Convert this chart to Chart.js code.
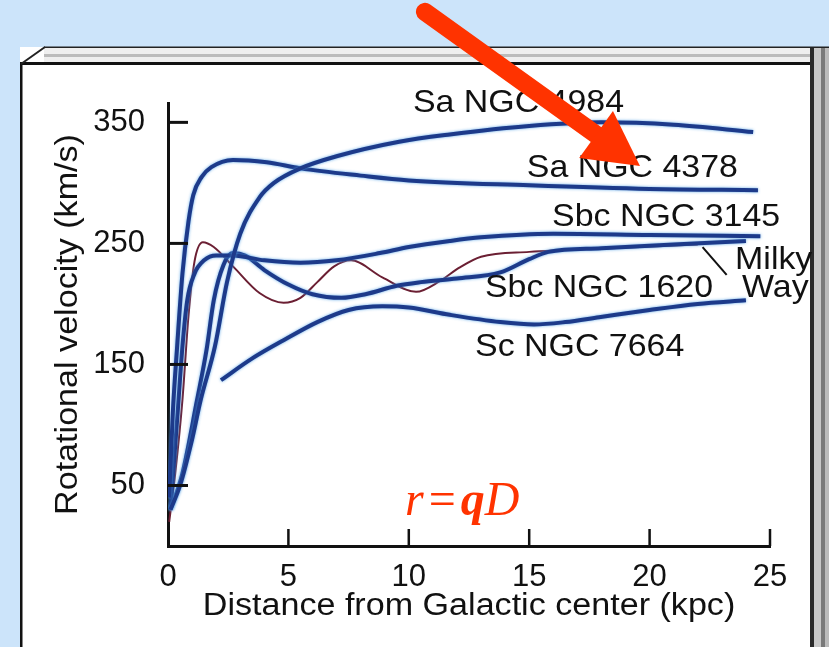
<!DOCTYPE html>
<html>
<head>
<meta charset="utf-8">
<script src="https://cdn.jsdelivr.net/npm/chart.js@4.4.1/dist/chart.umd.min.js"></script>
<style>
  html, body { margin: 0; padding: 0; background: #cce4fa; }
  #wrap { position: relative; width: 829px; height: 647px; overflow: hidden; }
  canvas { display: block; }
</style>
</head>
<body>
<div id="wrap"><canvas id="rot" width="829" height="647"></canvas></div>
<script>
/* ── rotation curves: [distance kpc, velocity km/s] ── */
const NGC4984 = [[0.1,30],[0.5,50],[1.0,88],[1.35,120],[1.95,165],[2.45,218],[3,258],[3.8,288],
  [4.4,300],[5.5,312],[7,322],[9.6,334],[11.7,340],[15,347],[18,350],[21,348],[24.3,342]];
const NGC4378 = [[0.05,40],[0.2,110],[0.37,162],[0.6,225],[0.85,268],[1.05,290],[1.4,305],[1.8,313],
  [2.7,319],[4.1,317],[5.5,312],[8,306],[10,302],[15,298],[20,295],[24.5,294]];
const NGC3145 = [[0.1,30],[0.4,110],[0.6,165],[0.8,203],[1.1,225],[1.5,236],[2,240],[2.7,240],
  [4,236],[5.5,234],[7,236],[8.8,242],[10,247],[11.7,252],[13,255],[16,258],[20,257],[24.6,256]];
const NGC1620 = [[0.1,30],[0.6,60],[1.2,120],[1.6,162],[1.9,203],[2.3,232],[2.7,242],[3.2,240],
  [4,228],[5,216],[6,208],[7.2,205],[8.2,208],[9.5,215],[10.5,218],[12,221],[13.8,226],[15,237],
  [15.8,243],[18,246],[21,249],[24,252]];
const NGC7664 = [[2.2,137],[3.5,155],[4.8,170],[6.2,185],[7.5,195],[8.9,198],[10,197],[11.7,191],
  [13.8,185],[15.2,183],[16.5,185],[17.9,189],[20,195],[22,200],[24,203]];
const MILKY_WAY = [[0.05,20],[0.3,60],[0.6,121],[0.85,190],[1.1,235],[1.45,251],[1.9,247],[2.7,231],
  [3.8,209],[4.8,201],[5.5,205],[6.2,218],[6.9,231],[7.6,236],[8.9,222],[10.3,210],[11.3,219],
  [12.1,230],[13,239],[15,243],[18.4,246],[22,249]];

const NAMES   = ['Sa NGC 4984','Sa NGC 4378','Sbc NGC 3145','Sbc NGC 1620','Sc NGC 7664','Milky Way'];
const X_TICKS = [0, 5, 10, 15, 20, 25];
const Y_TICKS = [50, 150, 250, 350];

const FONT  = '"Liberation Sans", Arial, sans-serif';
const SERIF = '"Liberation Serif", "Times New Roman", serif';
const NAVY  = '#1d3a8a';
const MWRED = '#6b1f33';
const ORANGE = '#ff3300';

const SERIES = [NGC4984, NGC4378, NGC3145, NGC1620, NGC7664, MILKY_WAY];

function txt(ctx, s, x, y, size, sx, align, rot) {
  ctx.save();
  ctx.font = size + 'px ' + FONT;
  ctx.fillStyle = '#111';
  ctx.textBaseline = 'middle';
  ctx.textAlign = align || 'left';
  ctx.translate(x, y);
  if (rot) ctx.rotate(rot);
  ctx.scale(sx, 1);
  ctx.fillText(s, 0, 0);
  ctx.restore();
}

/* background + beveled frame */
const framePlugin = {
  id: 'frame',
  beforeDraw(chart) {
    const ctx = chart.ctx;
    ctx.save();
    ctx.fillStyle = '#cce4fa'; ctx.fillRect(0, 0, 829, 647);
    ctx.fillStyle = '#fff';    ctx.fillRect(20, 47, 809, 600);
    ctx.fillStyle = '#efefef'; ctx.fillRect(44, 48, 785, 14);
    ctx.fillStyle = '#bcbcbc'; ctx.fillRect(44, 54, 785, 3);
    ctx.fillStyle = '#222';    ctx.fillRect(44, 46.5, 785, 1.5);
    ctx.fillStyle = '#111';    ctx.fillRect(20, 62, 793, 3);
    ctx.fillRect(20, 62, 2.5, 585);
    ctx.strokeStyle = '#222'; ctx.lineWidth = 2;
    ctx.beginPath(); ctx.moveTo(21, 64); ctx.lineTo(45, 47); ctx.stroke();
    ctx.restore();
  },
  afterDraw(chart) {
    const ctx = chart.ctx;
    ctx.save();
    ctx.fillStyle = '#2a2a2a'; ctx.fillRect(810, 48, 4, 599);
    ctx.fillStyle = '#c8c8c8'; ctx.fillRect(814, 48, 7, 599);
    ctx.fillStyle = '#7a7a7a'; ctx.fillRect(821, 48, 4, 599);
    ctx.fillStyle = '#bbb';    ctx.fillRect(825, 48, 4, 599);
    ctx.restore();
  }
};

/* inward tick marks */
const tickPlugin = {
  id: 'inTicks',
  afterDraw(chart) {
    const { ctx, scales: { x, y }, chartArea: a } = chart;
    ctx.save();
    ctx.strokeStyle = '#111';
    ctx.lineWidth = 3;
    Y_TICKS.forEach(v => {
      const py = y.getPixelForValue(v);
      ctx.beginPath(); ctx.moveTo(a.left, py); ctx.lineTo(a.left + 20, py); ctx.stroke();
    });
    ctx.lineWidth = 2.5;
    X_TICKS.slice(1).forEach(v => {
      const px = x.getPixelForValue(v);
      ctx.beginPath(); ctx.moveTo(px, a.bottom); ctx.lineTo(px, a.bottom - 17); ctx.stroke();
    });
    ctx.restore();
  }
};

/* light blue halo round the navy curves */
const glowPlugin = {
  id: 'glow',
  beforeDatasetDraw(chart, args) {
    const ctx = chart.ctx;
    ctx.save();
    if (args.index < 5) {
      ctx.shadowColor = 'rgba(80,160,230,0.9)';
      ctx.shadowBlur = 3;
    }
  },
  afterDatasetDraw(chart) { chart.ctx.restore(); }
};

/* curve names, titles, formula, arrow */
const annoPlugin = {
  id: 'anno',
  afterDraw(chart) {
    const { ctx, scales: { x, y } } = chart;
    const P = (kx, v) => [x.getPixelForValue(kx), y.getPixelForValue(v)];

    // axis titles
    txt(ctx, 'Distance from Galactic center (kpc)', (chart.chartArea.left + chart.chartArea.right) / 2, 606, 31, 1.1, 'center');
    txt(ctx, 'Rotational velocity (km/s)', 68, (chart.chartArea.top + chart.chartArea.bottom) / 2, 31, 1.1, 'center', -Math.PI / 2);

    // curve names
    const notes = [
      [NAMES[0], 10.17, 366], [NAMES[1], 14.9, 312], [NAMES[2], 15.95, 272],
      [NAMES[3], 13.16, 213], [NAMES[4], 12.75, 164.5],
      ['Milky', 23.55, 236], ['Way', 23.84, 213]
    ];
    notes.forEach(([s, kx, v]) => {
      const [px, py] = P(kx, v);
      txt(ctx, s, px, py, 32, 1.06, 'left');
    });

    // Milky Way leader
    ctx.save();
    ctx.strokeStyle = '#111'; ctx.lineWidth = 2;
    const [l1x, l1y] = P(22.2, 247), [l2x, l2y] = P(23.2, 224);
    ctx.beginPath(); ctx.moveTo(l1x, l1y); ctx.lineTo(l2x, l2y); ctx.stroke();
    ctx.restore();

    // r = qD
    ctx.save();
    ctx.fillStyle = ORANGE;
    ctx.textBaseline = 'alphabetic';
    let [fx, fy] = P(9.84, 25.6);
    const parts = [['italic 48px ' + SERIF, 'r'], ['48px ' + SERIF, '='],
                   ['italic bold 48px ' + SERIF, 'q'], ['italic 48px ' + SERIF, 'D']];
    parts.forEach(([f, s]) => {
      ctx.font = f;
      if (s === '=') fx += 5;
      ctx.fillText(s, fx, fy);
      fx += ctx.measureText(s).width + (s === '=' ? 5 : 0);
    });
    ctx.restore();

    // red arrow
    const [sx, sy] = P(10.67, 441.3), [tx, ty] = P(19.6, 314);
    const ang = Math.atan2(ty - sy, tx - sx);
    const headLen = 54, headHalf = 29;
    const bx = tx - headLen * Math.cos(ang), by = ty - headLen * Math.sin(ang);
    ctx.save();
    ctx.strokeStyle = ORANGE; ctx.fillStyle = ORANGE;
    ctx.lineWidth = 18; ctx.lineCap = 'round';
    ctx.beginPath(); ctx.moveTo(sx, sy); ctx.lineTo(bx + 4 * Math.cos(ang), by + 4 * Math.sin(ang)); ctx.stroke();
    ctx.beginPath();
    ctx.moveTo(tx, ty);
    ctx.lineTo(bx - headHalf * Math.sin(ang), by + headHalf * Math.cos(ang));
    ctx.lineTo(bx + headHalf * Math.sin(ang), by - headHalf * Math.cos(ang));
    ctx.closePath(); ctx.fill();
    ctx.restore();
  }
};

const el = document.getElementById('rot');
new Chart(el, {
  type: 'line',
  data: {
    datasets: SERIES.map((pts, i) => ({
      label: NAMES[i],
      data: pts.map(([kx, v]) => ({ x: kx, y: v })),
      borderColor: i === 5 ? MWRED : NAVY,
      borderWidth: i === 5 ? 2 : 4,
      pointRadius: 0,
      fill: false,
      cubicInterpolationMode: 'monotone'
    }))
  },
  options: {
    responsive: false,
    animation: false,
    events: [],
    layout: { padding: { top: 103, right: 59, left: 0, bottom: 0 } },
    plugins: { legend: { display: false }, tooltip: { enabled: false } },
    scales: {
      x: {
        type: 'linear', min: 0, max: 25,
        afterBuildTicks: s => { s.ticks = X_TICKS.map(v => ({ value: v })); },
        afterFit: s => { s.height = 101; },
        grid: { display: false },
        border: { display: true, color: '#111', width: 3 },
        ticks: { color: '#111', font: { family: FONT, size: 31 }, padding: 5, maxRotation: 0 }
      },
      y: {
        min: 0, max: 366,
        afterBuildTicks: s => { s.ticks = Y_TICKS.map(v => ({ value: v })); },
        afterFit: s => { s.width = 168; },
        grid: { display: false },
        border: { display: true, color: '#111', width: 3 },
        ticks: { color: '#111', font: { family: FONT, size: 31 }, padding: 15 }
      }
    }
  },
  plugins: [framePlugin, tickPlugin, glowPlugin, annoPlugin]
});
</script>
</body>
</html>
